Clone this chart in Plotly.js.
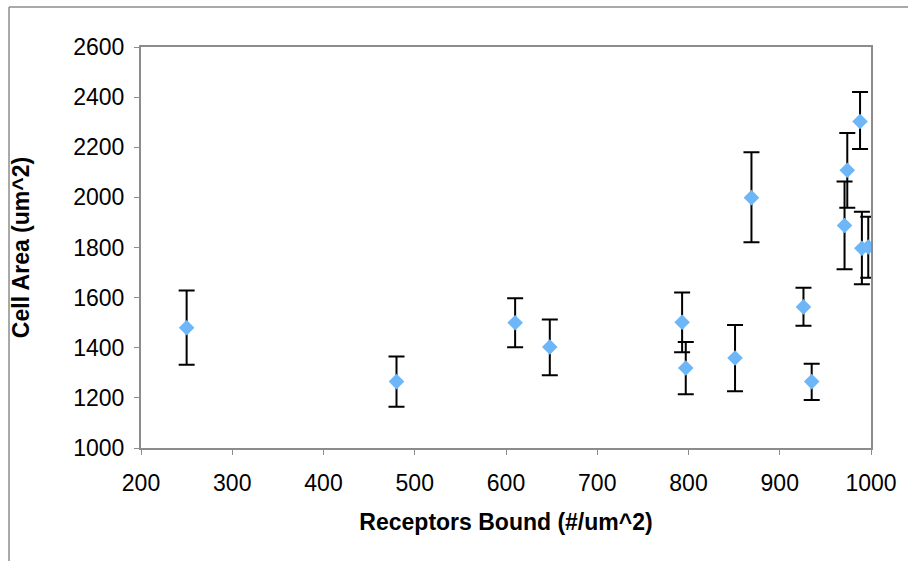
<!DOCTYPE html>
<html>
<head>
<meta charset="utf-8">
<script src="https://cdn.plot.ly/plotly-3.0.1.min.js"></script>
<style>
  html, body { margin: 0; padding: 0; background: #fff; }
  #chart { width: 908px; height: 561px; }
</style>
</head>
<body>
<div id="chart"></div>
<script>
const receptorsBound = [250, 480, 610, 648, 793, 797, 851, 869, 926, 935, 988, 974, 971, 990, 997];
const cellArea = [1480, 1265, 1500, 1403, 1502, 1319, 1359, 1999, 1563, 1265, 2303, 2108, 1888, 1797, 1802];
const errPlus = [148, 100, 98, 110, 118, 104, 132, 181, 76, 71, 117, 149, 175, 146, 121];
const errMinus = [148, 100, 98, 113, 120, 105, 133, 178, 75, 73, 110, 149, 175, 144, 123];

const xTitle = 'Receptors Bound (#/um^2)';
const yTitle = 'Cell Area (um^2)';

const trace = {
  x: receptorsBound,
  y: cellArea,
  type: 'scatter',
  mode: 'markers',
  marker: { symbol: 'diamond', size: 12, color: '#6DB6F7', line: { width: 0 } },
  error_y: {
    type: 'data',
    symmetric: false,
    array: errPlus,
    arrayminus: errMinus,
    color: '#000000',
    thickness: 2,
    width: 8
  },
  hoverinfo: 'x+y'
};

const fontFamily = '"Liberation Sans", Arial, sans-serif';

const layout = {
  width: 908,
  height: 561,
  margin: { l: 141, r: 37, t: 47, b: 113 },
  paper_bgcolor: '#ffffff',
  plot_bgcolor: '#ffffff',
  showlegend: false,
  font: { family: fontFamily, color: '#000000', size: 23 },
  xaxis: {
    range: [200, 1000],
    dtick: 100,
    tick0: 200,
    showgrid: false,
    zeroline: false,
    showline: true,
    mirror: true,
    linecolor: '#8c8c8c',
    linewidth: 2,
    ticks: 'outside',
    ticklen: 5,
    tickcolor: '#8c8c8c',
    tickwidth: 1,
    ticklabelstandoff: 8,
    tickfont: { family: fontFamily, size: 23, color: '#000' },
    title: { text: xTitle, font: { family: fontFamily, size: 23, color: '#000', weight: 'bold' }, standoff: 19 }
  },
  yaxis: {
    range: [1000, 2600],
    dtick: 200,
    tick0: 1000,
    showgrid: false,
    zeroline: false,
    showline: true,
    mirror: true,
    linecolor: '#8c8c8c',
    linewidth: 2,
    ticks: 'outside',
    ticklen: 5,
    tickcolor: '#8c8c8c',
    tickwidth: 1,
    ticklabelstandoff: 5,
    tickfont: { family: fontFamily, size: 23, color: '#000' },
    title: { text: yTitle, font: { family: fontFamily, size: 23, color: '#000', weight: 'bold' }, standoff: 37 }
  },
  shapes: [
    { type: 'line', xref: 'paper', yref: 'paper', x0: -0.1808, x1: 1.06, y0: 1.0998, y1: 1.0998, line: { color: '#8c8c8c', width: 1.5 } },
    { type: 'line', xref: 'paper', yref: 'paper', x0: -0.1808, x1: -0.1808, y0: 1.0998, y1: -0.3, line: { color: '#8c8c8c', width: 1.5 } }
  ]
};

Plotly.newPlot('chart', [trace], layout, { displayModeBar: false, staticPlot: true });
</script>
</body>
</html>
